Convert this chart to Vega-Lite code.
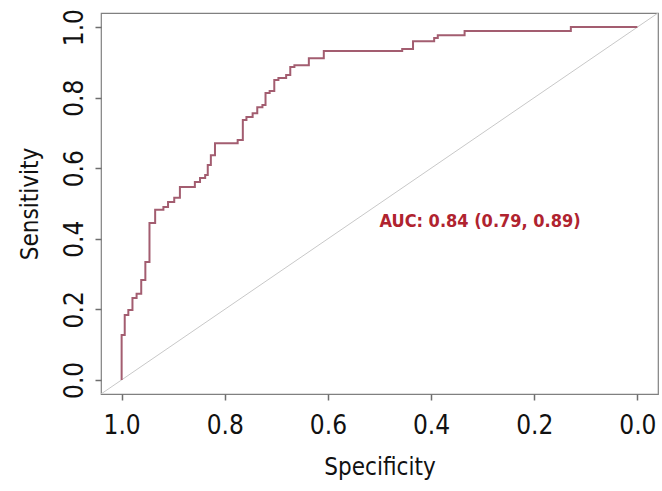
{
  "$schema": "https://vega.github.io/schema/vega-lite/v6.json",
  "autosize": "none",
  "width": 557,
  "height": 381,
  "padding": {"left": 101, "top": 13, "right": 4, "bottom": 97},
  "background": "white",
  "config": {
    "view": {"stroke": "#808080", "strokeWidth": 1.2},
    "font": "DejaVu Sans Condensed, DejaVu Sans"
  },
  "datasets": {
    "roc": [
      {"i": 1, "specificity": 1.000, "sensitivity": 0.000},
      {"i": 2, "specificity": 1.000, "sensitivity": 0.127},
      {"i": 3, "specificity": 0.994, "sensitivity": 0.127},
      {"i": 4, "specificity": 0.994, "sensitivity": 0.184},
      {"i": 5, "specificity": 0.987, "sensitivity": 0.184},
      {"i": 6, "specificity": 0.987, "sensitivity": 0.198},
      {"i": 7, "specificity": 0.979, "sensitivity": 0.198},
      {"i": 8, "specificity": 0.979, "sensitivity": 0.232},
      {"i": 9, "specificity": 0.971, "sensitivity": 0.232},
      {"i": 10, "specificity": 0.971, "sensitivity": 0.244},
      {"i": 11, "specificity": 0.962, "sensitivity": 0.244},
      {"i": 12, "specificity": 0.962, "sensitivity": 0.283},
      {"i": 13, "specificity": 0.954, "sensitivity": 0.283},
      {"i": 14, "specificity": 0.954, "sensitivity": 0.334},
      {"i": 15, "specificity": 0.946, "sensitivity": 0.334},
      {"i": 16, "specificity": 0.946, "sensitivity": 0.445},
      {"i": 17, "specificity": 0.935, "sensitivity": 0.445},
      {"i": 18, "specificity": 0.935, "sensitivity": 0.482},
      {"i": 19, "specificity": 0.919, "sensitivity": 0.482},
      {"i": 20, "specificity": 0.919, "sensitivity": 0.490},
      {"i": 21, "specificity": 0.910, "sensitivity": 0.490},
      {"i": 22, "specificity": 0.910, "sensitivity": 0.504},
      {"i": 23, "specificity": 0.898, "sensitivity": 0.504},
      {"i": 24, "specificity": 0.898, "sensitivity": 0.516},
      {"i": 25, "specificity": 0.887, "sensitivity": 0.516},
      {"i": 26, "specificity": 0.887, "sensitivity": 0.547},
      {"i": 27, "specificity": 0.858, "sensitivity": 0.547},
      {"i": 28, "specificity": 0.858, "sensitivity": 0.561},
      {"i": 29, "specificity": 0.848, "sensitivity": 0.561},
      {"i": 30, "specificity": 0.848, "sensitivity": 0.572},
      {"i": 31, "specificity": 0.838, "sensitivity": 0.572},
      {"i": 32, "specificity": 0.838, "sensitivity": 0.581},
      {"i": 33, "specificity": 0.833, "sensitivity": 0.581},
      {"i": 34, "specificity": 0.833, "sensitivity": 0.609},
      {"i": 35, "specificity": 0.827, "sensitivity": 0.609},
      {"i": 36, "specificity": 0.827, "sensitivity": 0.637},
      {"i": 37, "specificity": 0.819, "sensitivity": 0.637},
      {"i": 38, "specificity": 0.819, "sensitivity": 0.671},
      {"i": 39, "specificity": 0.775, "sensitivity": 0.671},
      {"i": 40, "specificity": 0.775, "sensitivity": 0.680},
      {"i": 41, "specificity": 0.765, "sensitivity": 0.680},
      {"i": 42, "specificity": 0.765, "sensitivity": 0.737},
      {"i": 43, "specificity": 0.758, "sensitivity": 0.737},
      {"i": 44, "specificity": 0.758, "sensitivity": 0.745},
      {"i": 45, "specificity": 0.746, "sensitivity": 0.745},
      {"i": 46, "specificity": 0.746, "sensitivity": 0.756},
      {"i": 47, "specificity": 0.737, "sensitivity": 0.756},
      {"i": 48, "specificity": 0.737, "sensitivity": 0.773},
      {"i": 49, "specificity": 0.727, "sensitivity": 0.773},
      {"i": 50, "specificity": 0.727, "sensitivity": 0.779},
      {"i": 51, "specificity": 0.721, "sensitivity": 0.779},
      {"i": 52, "specificity": 0.721, "sensitivity": 0.813},
      {"i": 53, "specificity": 0.713, "sensitivity": 0.813},
      {"i": 54, "specificity": 0.713, "sensitivity": 0.819},
      {"i": 55, "specificity": 0.704, "sensitivity": 0.819},
      {"i": 56, "specificity": 0.704, "sensitivity": 0.850},
      {"i": 57, "specificity": 0.696, "sensitivity": 0.850},
      {"i": 58, "specificity": 0.696, "sensitivity": 0.856},
      {"i": 59, "specificity": 0.681, "sensitivity": 0.856},
      {"i": 60, "specificity": 0.681, "sensitivity": 0.864},
      {"i": 61, "specificity": 0.673, "sensitivity": 0.864},
      {"i": 62, "specificity": 0.673, "sensitivity": 0.887},
      {"i": 63, "specificity": 0.665, "sensitivity": 0.887},
      {"i": 64, "specificity": 0.665, "sensitivity": 0.892},
      {"i": 65, "specificity": 0.637, "sensitivity": 0.892},
      {"i": 66, "specificity": 0.637, "sensitivity": 0.912},
      {"i": 67, "specificity": 0.608, "sensitivity": 0.912},
      {"i": 68, "specificity": 0.608, "sensitivity": 0.932},
      {"i": 69, "specificity": 0.456, "sensitivity": 0.932},
      {"i": 70, "specificity": 0.456, "sensitivity": 0.938},
      {"i": 71, "specificity": 0.435, "sensitivity": 0.938},
      {"i": 72, "specificity": 0.435, "sensitivity": 0.960},
      {"i": 73, "specificity": 0.394, "sensitivity": 0.960},
      {"i": 74, "specificity": 0.394, "sensitivity": 0.969},
      {"i": 75, "specificity": 0.387, "sensitivity": 0.969},
      {"i": 76, "specificity": 0.387, "sensitivity": 0.977},
      {"i": 77, "specificity": 0.335, "sensitivity": 0.977},
      {"i": 78, "specificity": 0.335, "sensitivity": 0.989},
      {"i": 79, "specificity": 0.129, "sensitivity": 0.989},
      {"i": 80, "specificity": 0.129, "sensitivity": 1.000},
      {"i": 81, "specificity": 0.000, "sensitivity": 1.000}
    ],
    "diag": [
      {"i": 1, "specificity": 1.04, "sensitivity": -0.04},
      {"i": 2, "specificity": -0.04, "sensitivity": 1.04}
    ],
    "auc": [
      {"label": "AUC: 0.84 (0.79, 0.89)", "specificity": 0.5, "sensitivity": 0.448}
    ]
  },
  "encoding": {
    "x": {
      "field": "specificity",
      "type": "quantitative",
      "scale": {"domain": [-0.04, 1.04], "reverse": true, "nice": false, "zero": false},
      "axis": {
        "title": "Specificity",
        "values": [0, 0.2, 0.4, 0.6, 0.8, 1.0],
        "format": ".1f",
        "grid": false,
        "domain": false,
        "tickColor": "#6e6e6e",
        "tickWidth": 1.5,
        "tickSize": 6,
        "labelFont": "DejaVu Sans Condensed, DejaVu Sans",
        "labelFontSize": 26,
        "labelColor": "#111111",
        "labelPadding": 12,
        "labelFlush": false,
        "titleFont": "DejaVu Sans Condensed, DejaVu Sans",
        "titleFontSize": 24,
        "titleFontWeight": "normal",
        "titleColor": "#111111",
        "titlePadding": 17
      }
    },
    "y": {
      "field": "sensitivity",
      "type": "quantitative",
      "scale": {"domain": [-0.04, 1.04], "nice": false, "zero": false},
      "axis": {
        "title": "Sensitivity",
        "values": [0, 0.2, 0.4, 0.6, 0.8, 1.0],
        "format": ".1f",
        "grid": false,
        "domain": false,
        "tickColor": "#6e6e6e",
        "tickWidth": 1.5,
        "tickSize": 6,
        "labelAngle": -90,
        "labelAlign": "center",
        "labelBaseline": "alphabetic",
        "labelFont": "DejaVu Sans Condensed, DejaVu Sans",
        "labelFontSize": 26,
        "labelColor": "#111111",
        "labelPadding": 13,
        "labelFlush": false,
        "titleFont": "DejaVu Sans Condensed, DejaVu Sans",
        "titleFontSize": 24,
        "titleFontWeight": "normal",
        "titleColor": "#111111",
        "titlePadding": 19
      }
    }
  },
  "layer": [
    {
      "data": {"name": "diag"},
      "mark": {"type": "line", "color": "#c8c8c8", "strokeWidth": 1, "clip": true},
      "encoding": {"order": {"field": "i", "type": "quantitative"}}
    },
    {
      "data": {"name": "roc"},
      "mark": {"type": "line", "color": "#a35d70", "strokeWidth": 2},
      "encoding": {"order": {"field": "i", "type": "quantitative"}}
    },
    {
      "data": {"name": "auc"},
      "mark": {"type": "text", "align": "left", "baseline": "middle", "color": "#b0232f", "fontWeight": "bold", "fontSize": 18, "font": "DejaVu Sans Condensed, DejaVu Sans"},
      "encoding": {"text": {"field": "label", "type": "nominal"}}
    }
  ]
}
